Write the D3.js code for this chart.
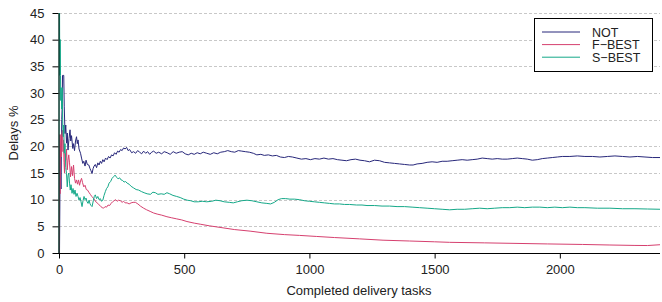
<!DOCTYPE html>
<html>
<head>
<meta charset="utf-8">
<script src="https://cdn.jsdelivr.net/npm/d3@7"></script>
<style>
  body { margin: 0; background: #fff; }
  svg { font-family: "Liberation Sans", Arial, sans-serif; }
  .grid line { stroke: #c8c8c8; stroke-dasharray: 3,2; }
  .series { fill: none; stroke-width: 1; stroke-linejoin: round; }
</style>
</head>
<body>
<div id="chart"></div>
<script>
// page set up
const FRAME_WIDTH = 662;
const FRAME_HEIGHT = 302;
const PLOT = {left: 59, right: 660, top: 13, bottom: 253};

// data: [completed tasks, delays %]
const NOT_DATA = [[0,0],[2,0],[5,20],[8,12],[11,25],[13,28],[14,33.3],[19,33.3],[21,27.4],[24,22.4],[27,24],[30,20.6],[33,22.5],[36,19.3],[40,21.5],[44,23.1],[47,21],[50,22],[55,19.6],[58,20.5],[62,19.2],[66,21],[70,21.8],[73,20.5],[76,21.2],[80,19.5],[86,18.7],[90,17.8],[95,16.8],[99,17.2],[104,16.3],[108,17.4],[113,16.6],[119,16.5],[124,15.8],[128,15.4],[132,14.9],[136,15.8],[140,16.3],[145,16.6],[150,16.0],[155,16.9],[160,16.5],[165,17.2],[170,16.8],[175,17.5],[180,17.1],[186,17.8],[192,17.5],[198,18.1],[204,17.8],[210,18.4],[216,18.2],[222,18.8],[228,18.5],[234,19.1],[240,18.9],[246,19.4],[252,19.2],[258,19.7],[264,19.5],[270,19.8],[276,19.2],[282,19.4],[290,18.8],[298,19.0],[306,18.7],[314,19.2],[322,18.9],[330,18.6],[338,19.1],[346,18.7],[354,19.0],[362,18.5],[370,18.9],[378,19.1],[388,18.7],[398,18.9],[410,18.6],[420,19.0],[432,18.8],[444,18.5],[456,19.0],[468,18.7],[480,18.9],[492,19.0],[504,18.6],[516,18.4],[528,18.7],[540,18.5],[552,18.8],[564,18.6],[576,18.9],[590,18.7],[604,18.5],[618,18.8],[632,18.6],[646,18.9],[660,19.0],[674,19.2],[688,19.0],[702,18.9],[716,19.2],[730,19.1],[744,19.0],[760,18.9],[776,18.7],[790,18.4],[806,18.5],[820,18.3],[836,18.4],[852,18.2],[868,18.3],[884,18.0],[900,17.9],[916,18.1],[932,18.0],[950,17.8],[968,17.6],[986,17.7],[1004,17.5],[1022,17.7],[1040,17.6],[1058,17.8],[1076,17.6],[1094,17.7],[1112,17.5],[1130,17.4],[1148,17.3],[1166,17.5],[1184,17.6],[1202,17.4],[1220,17.3],[1240,17.1],[1260,17.4],[1280,17.3],[1300,17.0],[1320,16.9],[1340,16.8],[1360,16.7],[1380,16.6],[1400,16.5],[1414,16.5],[1430,16.7],[1450,16.8],[1470,17.0],[1490,17.1],[1510,17.0],[1530,17.2],[1550,17.2],[1570,17.3],[1590,17.4],[1610,17.5],[1630,17.4],[1650,17.5],[1670,17.6],[1690,17.8],[1710,17.7],[1730,17.6],[1750,17.7],[1770,17.6],[1790,17.6],[1810,17.7],[1830,17.8],[1850,17.7],[1870,17.6],[1890,17.4],[1910,17.5],[1930,17.7],[1950,17.8],[1970,17.9],[1990,18.0],[2010,18.1],[2040,18.1],[2070,18.2],[2100,18.1],[2130,18.1],[2160,18.0],[2190,18.1],[2220,18.2],[2250,18.1],[2280,18.0],[2310,18.1],[2340,18.0],[2370,17.9],[2400,17.9]];

const FBEST_DATA = [[0,0],[1,0],[2,11.1],[3,22.2],[4,11.1],[6,20],[8,22.2],[10,18],[12,22.5],[14,23],[16,19],[18,21.2],[20,17],[22,15],[24,18.7],[27,17.4],[30,19.5],[33,15.6],[36,17.4],[39,18.4],[42,16.9],[46,14.3],[50,16.2],[54,14.5],[58,16.5],[62,14],[66,13.1],[70,13.7],[74,12.9],[78,13.7],[82,12.7],[86,13.5],[90,14],[94,13.2],[99,12.4],[104,12.7],[109,11.9],[114,11.8],[119,11.4],[125,11.0],[131,10.6],[137,10.3],[143,9.9],[149,9.5],[155,9.3],[161,9.0],[167,8.7],[173,8.5],[178,8.4],[184,8.7],[190,8.6],[196,9.0],[202,8.9],[208,9.3],[214,9.6],[220,9.8],[226,10.0],[232,9.7],[238,9.9],[245,9.8],[252,9.5],[258,9.7],[264,9.4],[272,9.4],[280,9.2],[288,9.4],[296,9.5],[305,9.5],[315,9.2],[325,8.8],[338,8.4],[350,8.1],[364,7.8],[378,7.5],[392,7.3],[410,7.1],[431,6.8],[450,6.6],[470,6.4],[490,6.2],[511,5.9],[540,5.6],[564,5.4],[600,5.1],[643,4.8],[700,4.4],[763,4.1],[830,3.7],[900,3.45],[960,3.3],[1029,3.1],[1100,2.9],[1200,2.65],[1294,2.4],[1400,2.25],[1500,2.1],[1560,2.0],[1700,1.9],[1825,1.8],[1950,1.7],[2091,1.6],[2200,1.5],[2300,1.42],[2350,1.4],[2400,1.55]];

const SBEST_DATA = [[0,0],[1,100],[2,50],[3,33.3],[4,40],[5,40],[6,33.3],[7,28.6],[8,31],[9,30],[11,27],[13,31],[15,24],[17,21.8],[19,24],[21,18.7],[24,20.5],[27,16],[30,14.9],[33,12.4],[36,14.5],[39,15],[42,13.1],[45,11.8],[48,12.8],[52,11.2],[56,12.1],[60,11],[64,11.8],[68,10.6],[72,11.2],[76,10.6],[80,9.9],[84,10.4],[88,9.6],[92,8.7],[96,9.8],[100,10.6],[104,10.0],[108,10.3],[112,9.6],[116,9.3],[120,9.9],[124,9.2],[128,8.9],[132,8.7],[137,9.8],[141,10.6],[145,10.9],[150,10.2],[155,10.6],[160,10.0],[165,10.2],[170,9.7],[175,9.9],[180,10.8],[185,11.5],[190,12.1],[195,12.4],[200,13.1],[206,13.4],[212,14.0],[218,14.3],[224,14.6],[230,14.2],[236,13.9],[242,14.1],[248,13.7],[254,13.6],[260,13.3],[266,13.4],[272,13.1],[280,12.9],[288,12.5],[298,12.2],[308,11.9],[318,11.8],[330,11.5],[340,11.3],[352,11.1],[365,11.0],[375,11.4],[385,11.3],[395,11.0],[408,11.1],[420,11.0],[431,11.3],[442,11.1],[455,10.8],[470,10.6],[484,10.4],[498,10.1],[512,9.9],[526,9.8],[540,9.6],[556,9.6],[572,9.7],[590,9.6],[610,9.7],[626,9.9],[643,9.8],[660,9.6],[680,9.5],[696,9.4],[712,9.6],[730,9.8],[750,9.9],[770,9.8],[790,9.6],[810,9.4],[830,9.3],[845,9.2],[860,9.5],[875,10.0],[889,10.2],[905,10.2],[922,10.1],[940,10.1],[960,10.0],[980,9.8],[1000,9.7],[1020,9.6],[1040,9.5],[1060,9.4],[1080,9.3],[1100,9.2],[1120,9.2],[1140,9.1],[1160,9.1],[1188,9.0],[1210,9.0],[1230,8.9],[1260,8.9],[1290,8.8],[1320,8.8],[1350,8.7],[1380,8.7],[1410,8.6],[1440,8.5],[1470,8.4],[1500,8.3],[1530,8.2],[1560,8.1],[1590,8.2],[1620,8.2],[1650,8.3],[1680,8.4],[1710,8.3],[1740,8.4],[1770,8.5],[1800,8.5],[1830,8.6],[1860,8.5],[1890,8.6],[1920,8.6],[1950,8.5],[1980,8.6],[2010,8.5],[2040,8.6],[2070,8.5],[2100,8.5],[2150,8.4],[2200,8.4],[2250,8.3],[2300,8.3],[2350,8.25],[2400,8.2]];

const SERIES_NAMES = ["NOT", "F\u2212BEST", "S\u2212BEST"];
const SERIES_COLORS = ["#27277a", "#d6406f", "#14a888"];
const X_TICKS = [0, 500, 1000, 1500, 2000];
const Y_TICKS = [0, 5, 10, 15, 20, 25, 30, 35, 40, 45];

const FRAME = d3.select("#chart")
  .append("svg")
  .attr("width", FRAME_WIDTH)
  .attr("height", FRAME_HEIGHT);

// scales
const X_SCALE = d3.scaleLinear().domain([0, 2400]).range([PLOT.left, PLOT.right]);
const Y_SCALE = d3.scaleLinear().domain([0, 45]).range([PLOT.bottom, PLOT.top]);

// dashed horizontal grid
FRAME.append("g")
  .attr("class", "grid")
  .selectAll("line")
  .data(Y_TICKS.filter(d => d > 0))
  .enter()
  .append("line")
  .attr("x1", PLOT.left)
  .attr("x2", PLOT.right)
  .attr("y1", d => Math.round(Y_SCALE(d)) + 0.5)
  .attr("y2", d => Math.round(Y_SCALE(d)) + 0.5);

// clip so the first spikes stay inside the plot
FRAME.append("clipPath")
  .attr("id", "plot-clip")
  .append("rect")
  .attr("x", PLOT.left - 1)
  .attr("y", PLOT.top)
  .attr("width", PLOT.right - PLOT.left + 2)
  .attr("height", PLOT.bottom - PLOT.top);

const line = d3.line()
  .x(d => X_SCALE(d[0]))
  .y(d => Y_SCALE(d[1]));

const ALL_SERIES = [NOT_DATA, FBEST_DATA, SBEST_DATA];

FRAME.append("g")
  .attr("clip-path", "url(#plot-clip)")
  .selectAll("path")
  .data(ALL_SERIES)
  .enter()
  .append("path")
  .attr("class", "series")
  .attr("d", d => line(d))
  .attr("stroke", (d, i) => SERIES_COLORS[i]);

// X axis
const xAxis = FRAME.append("g")
  .attr("transform", "translate(0," + (PLOT.bottom + 0.5) + ")")
  .call(d3.axisBottom(X_SCALE).tickValues(X_TICKS).tickFormat(d3.format("d"))
    .tickSize(5).tickPadding(6).tickSizeOuter(0));
xAxis.selectAll("text").attr("font-size", "13px").attr("fill", "#222");

// Y axis
const yAxis = FRAME.append("g")
  .attr("transform", "translate(" + (PLOT.left - 0.5) + ",0)")
  .call(d3.axisLeft(Y_SCALE).tickValues(Y_TICKS).tickSize(6).tickPadding(8).tickSizeOuter(0));
yAxis.selectAll("text").attr("font-size", "13px").attr("fill", "#222");
FRAME.selectAll(".domain").attr("stroke", "#000");
FRAME.selectAll(".tick line").attr("stroke", "#000");
xAxis.select(".domain").attr("d", "M" + (PLOT.left - 6) + ",0H" + PLOT.right);

// axis titles
FRAME.append("text")
  .attr("x", 359)
  .attr("y", 295)
  .attr("text-anchor", "middle")
  .attr("font-size", "13px")
  .attr("fill", "#222")
  .text("Completed delivery tasks");

FRAME.append("text")
  .attr("transform", "translate(18," + ((PLOT.top + PLOT.bottom) / 2) + ") rotate(-90)")
  .attr("text-anchor", "middle")
  .attr("font-size", "13px")
  .attr("fill", "#222")
  .text("Delays %");

// legend
const LEGEND = FRAME.append("g");
LEGEND.append("rect")
  .attr("x", 534.5)
  .attr("y", 18.5)
  .attr("width", 118)
  .attr("height", 53)
  .attr("fill", "#fff")
  .attr("stroke", "#000");

SERIES_NAMES.forEach((name, i) => {
  const cy = 32 + i * 12.6;
  LEGEND.append("line")
    .attr("x1", 542)
    .attr("x2", 580)
    .attr("y1", cy)
    .attr("y2", cy)
    .attr("stroke", SERIES_COLORS[i])
    .attr("stroke-width", 1);
  LEGEND.append("text")
    .attr("x", 592)
    .attr("y", cy + 4.5)
    .attr("font-size", "12.5px")
    .attr("fill", "#222")
    .text(name);
});
</script>
</body>
</html>
